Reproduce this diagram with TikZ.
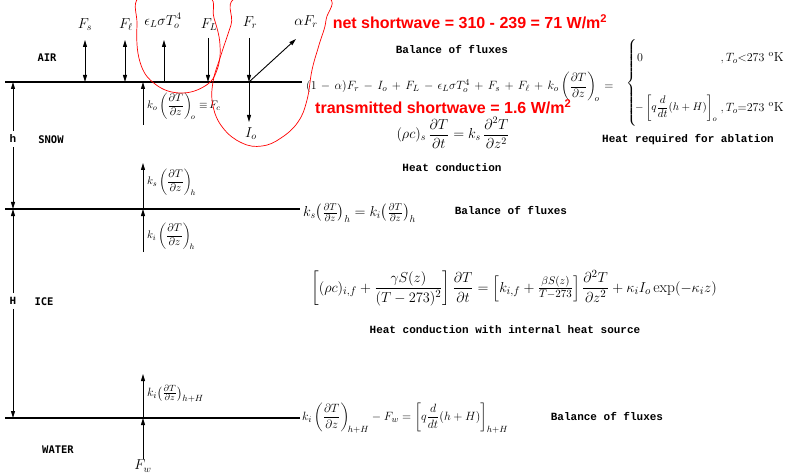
\documentclass[tikz,border=0pt]{standalone}
\usepackage{fontspec}
\usepackage{amsmath}
\setmonofont{Liberation Mono}
\newfontfamily\layerfont{DejaVu Sans Mono}
\newfontfamily\notefont{Liberation Sans}
\usetikzlibrary{arrows.meta, positioning, calc}

\begin{document}
\begin{tikzpicture}[x=1pt, y=-1pt,
    % Line styles
    iface/.style={line width=1.4pt, black},
    arrow/.style={line width=0.9pt, -{Triangle[length=7pt, width=4pt]}},
    dblarrow/.style={line width=0.9pt,
        {Triangle[length=7pt, width=4pt]}-{Triangle[length=7pt, width=4pt]}},
    loop/.style={draw=red, line width=0.7pt},
    % Text styles
    flux/.style={font=\fontsize{14}{16}\selectfont, inner sep=1pt},
    eqn/.style={font=\fontsize{13}{15}\selectfont, inner sep=0pt},
    caption/.style={font=\ttfamily\bfseries\fontsize{11}{13}\selectfont, inner sep=0pt},
    layer/.style={font=\layerfont\bfseries\fontsize{10.5}{12}\selectfont, inner sep=0pt},
    note/.style={font=\notefont\bfseries\fontsize{16}{18}\selectfont, text=red, inner sep=0pt}
]

\useasboundingbox (0,0) rectangle (785,476);

% --- Interfaces ---
\coordinate (surfL) at (5,82);  \coordinate (surfR) at (302,82);
\coordinate (baseL) at (5,209); \coordinate (baseR) at (300,209);
\coordinate (botL)  at (5,418); \coordinate (botR)  at (300,418);
\draw[iface] (surfL) -- (surfR);
\draw[iface] (baseL) -- (baseR);
\draw[iface] (botL) -- (botR);

% --- Layer thickness ---
\coordinate (hTop) at (13,82);
\coordinate (hBot) at (13,209);
\coordinate (HBot) at (13,418);
\node[caption, inner sep=4pt] (hlbl) at (13,139) {h};
\node[caption, inner sep=4pt] (Hlbl) at (13,301) {H};
\draw[arrow] (hlbl) -- (hTop);
\draw[arrow] (hlbl) -- (hBot);
\draw[arrow] (Hlbl) -- (hBot);
\draw[arrow] (Hlbl) -- (HBot);

% --- Layers ---
\node[layer] (air) at (47,58) {AIR};
\node[layer] (snow) at (51,140) {SNOW};
\node[layer] (ice) at (44,302) {ICE};
\node[layer] (water) at (58,450) {WATER};

% --- Surface fluxes ---
\coordinate (fsTop) at (85,40);   \coordinate (fsFoot) at (85,82);
\coordinate (flTop) at (125,40);  \coordinate (flFoot) at (125,82);
\coordinate (feTop) at (164,40);  \coordinate (feFoot) at (164,82);
\coordinate (fLTop) at (208,38);  \coordinate (fLFoot) at (208,82);
\coordinate (frTop) at (249,38);  \coordinate (frFoot) at (249,82);
\coordinate (refl) at (296,39);
\coordinate (ioEnd) at (249,122);
\coordinate (fcEnd) at (143,125); \coordinate (fcFoot) at (143,82);

\draw[dblarrow] (fsTop) -- (fsFoot);
\draw[dblarrow] (flTop) -- (flFoot);
\draw[arrow] (feFoot) -- (feTop);
\draw[arrow] (fLTop) -- (fLFoot);
\draw[arrow] (frTop) -- (frFoot);
\draw[arrow] (frFoot) -- (refl);
\draw[arrow] (frFoot) -- (ioEnd);
\draw[arrow] (fcEnd) -- (fcFoot);

\node[flux] (Fs) at (85,25) {$F_s$};
\node[flux] (Fl) at (126,25) {$F_\ell$};
\node[flux] (emit) at (163,21) {$\epsilon_L\sigma T_o^4$};
\node[flux] (FL) at (209,25) {$F_L$};
\node[flux] (Fr) at (250,23) {$F_r$};
\node[flux] (aFr) at (306,22) {$\alpha F_r$};
\node[flux] (Io) at (251,134) {$I_o$};
\node[flux, anchor=west, font=\fontsize{11}{13}\selectfont] (Fc) at (146,106)
    {$k_o\left(\dfrac{\partial T}{\partial z}\right)_{\!o}\,{\equiv}\,F_c$};

% --- Snow/ice interface ---
\coordinate (ksEnd) at (143,163); \coordinate (ksFoot) at (143,209);
\coordinate (kiStart) at (143,252);
\draw[arrow] (ksFoot) -- (ksEnd);
\draw[arrow] (kiStart) -- (ksFoot);
\node[flux, anchor=west, font=\fontsize{11}{13}\selectfont] (ks) at (146,182)
    {$k_s\left(\dfrac{\partial T}{\partial z}\right)_{\!h}$};
\node[flux, anchor=west, font=\fontsize{11}{13}\selectfont] (ki) at (146,236)
    {$k_i\left(\dfrac{\partial T}{\partial z}\right)_{\!h}$};

% --- Ice/water interface ---
\coordinate (wEnd) at (143,374); \coordinate (wFoot) at (143,418);
\node[flux] (Fw) at (143,466) {$F_w$};
\draw[arrow] (Fw) -- (wFoot);
\draw[arrow] (wFoot) -- (wEnd);
\node[flux, anchor=west, font=\fontsize{13}{15}\selectfont] (kiH) at (146,394)
    {$k_i\bigl(\frac{\partial T}{\partial z}\bigr)_{h+H}$};

% --- Equations ---
\node[caption] (bal1) at (452,49) {Balance of fluxes};
\node[eqn, anchor=west] (eqtop) at (306,87)
    {$\medmuskip=6.5mu \thickmuskip=7mu
      (1-\alpha)F_r - I_o + F_L - \epsilon_L\sigma T_o^4 + F_s + F_\ell
      + k_o\left(\dfrac{\partial T}{\partial z}\right)_{\!o} =$};
\node[eqn] (brace) at (632,83) {$\left\{\vcenter{\hbox{\rule{0pt}{86pt}}}\right.$};
\node[eqn, anchor=west, font=\fontsize{12}{14}\selectfont] (caseA) at (637,58) {$0$};
\node[eqn, anchor=west, font=\fontsize{11}{13}\selectfont] (caseB) at (635,108)
    {$-\left[q\dfrac{d}{dt}(h+H)\right]_o$};
\node[eqn, anchor=east] (condA) at (784,58)
    {$,T_o{<}273\ ^{\mathrm{o}}\mathrm{K}$};
\node[eqn, anchor=east] (condB) at (784,108)
    {$,T_o{=}273\ ^{\mathrm{o}}\mathrm{K}$};
\node[eqn, font=\fontsize{14.5}{17}\selectfont] (eqsnow) at (453,133)
    {$(\rho c)_s\,\dfrac{\partial T}{\partial t} = k_s\,\dfrac{\partial^2 T}{\partial z^2}$};
\node[caption] (ablcap) at (688,140) {Heat required for ablation};
\node[caption] (cond1) at (452,168) {Heat conduction};

\node[eqn, anchor=west, font=\fontsize{14.5}{17}\selectfont] (eqbase) at (303,213)
    {$k_s\bigl(\frac{\partial T}{\partial z}\bigr)_{h} = k_i\bigl(\frac{\partial T}{\partial z}\bigr)_{h}$};
\node[caption] (bal2) at (511,210) {Balance of fluxes};

\node[eqn, font=\fontsize{15.5}{18}\selectfont] (eqice) at (514,288)
    {$\left[(\rho c)_{i,f} + \dfrac{\gamma S(z)}{(T-273)^2}\right]\dfrac{\partial T}{\partial t}
      = \left[k_{i,f} + \frac{\beta S(z)}{T-273}\right]\dfrac{\partial^2 T}{\partial z^2}
      + \kappa_i I_o \exp(-\kappa_i z)$};
\node[caption] (cond2) at (505,330) {Heat conduction with internal heat source};

\node[eqn, anchor=west] (eqbot) at (302,418)
    {$k_i\left(\dfrac{\partial T}{\partial z}\right)_{\!h+H} - F_w
      = \left[q\dfrac{d}{dt}(h+H)\right]_{h+H}$};
\node[caption] (bal3) at (607,416) {Balance of fluxes};

% --- Annotations (red) ---
\begin{scope}
    \clip (0,0) rectangle (785,476);
    \draw[loop] plot[smooth cycle, tension=0.7] coordinates {
        (143,-5) (137,25) (140,62) (155,84) (180,93)
        (205,86) (217,70) (220,45) (214,18) (205,-5)};
    \draw[loop] plot[smooth cycle, tension=0.7] coordinates {
        (240,-4) (231,25) (221,55) (213,82) (213,106) (223,128)
        (242,143) (262,146) (281,138) (298,122) (307,100)
        (312,70) (319,45) (326,20) (324,-4)};
\end{scope}
\node[note] (netsw) at (470,22) {net shortwave = 310 - 239 = 71 W/m\textsuperscript{2}};
\node[note, anchor=west] (trsw) at (315,107) {transmitted shortwave = 1.6 W/m\textsuperscript{2}};

\end{tikzpicture}
\end{document}
